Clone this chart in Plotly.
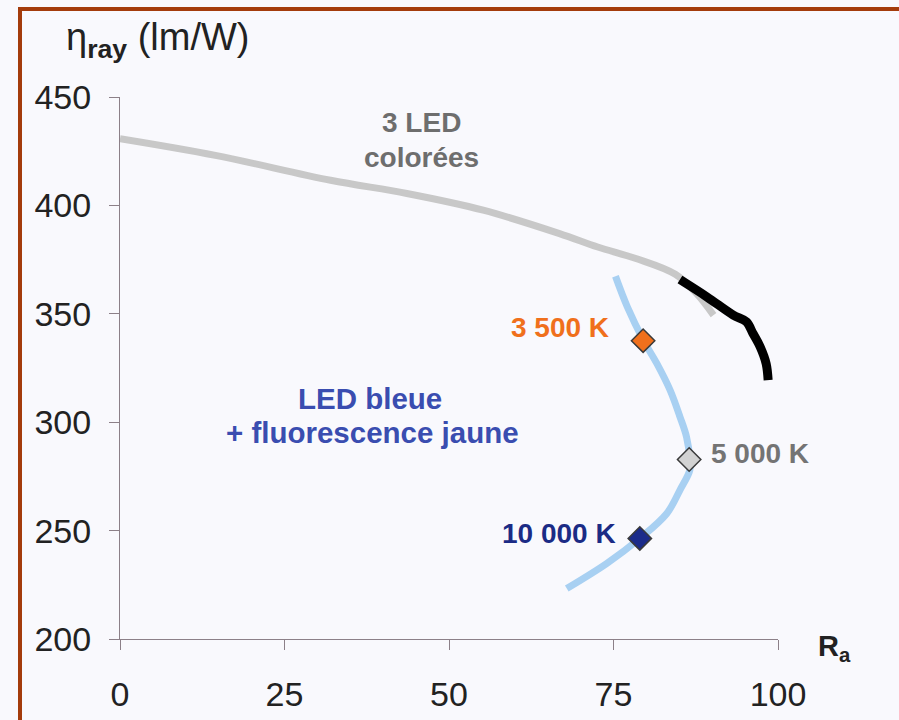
import plotly.graph_objects as go

# ---- data ----
led3_ra = [0, 14.5, 32.0, 43.6, 55.2, 66.8, 72.6, 78.4, 84.4, 87.6, 90.2]
led3_eta = [430.8, 423.1, 411.6, 405.5, 397.8, 387.0, 380.8, 375.5, 368.2, 359.4, 349.4]

led4_ra = [85.1, 89.2, 93.2, 95.2, 96.2, 97.3, 98.2, 98.5]
led4_eta = [365.8, 357.8, 349.4, 346.3, 340.9, 334.7, 327.0, 319.4]

blue_ra = [75.3, 77.1, 79.6, 81.6, 83.6, 85.1, 86.1, 86.6, 86.6, 85.1, 83.1, 79.0, 74.0, 67.9]
blue_eta = [367.3, 353.2, 337.5, 327.0, 314.8, 302.5, 293.2, 283.0, 277.9, 268.7, 257.9, 246.4, 234.9, 223.3]

temp_labels = ["3 500 K", "5 000 K", "10 000 K"]
temp_ra = [79.5, 86.5, 79.0]
temp_eta = [337.6, 282.8, 246.4]
temp_colors = ["#f0701c", "#d2d2d2", "#1b2b8a"]

x_ticks = [0, 25, 50, 75, 100]
y_ticks = [200, 250, 300, 350, 400, 450]

# ---- layout geometry ----
W, H = 899, 720
L, R, T, B = 120, 121, 97, 81
pw, ph = W - L - R, H - T - B


def dx(px):
    return (px - L) / pw * 100.0


def dy(py):
    return 200.0 + (H - B - py) / ph * 250.0


def pxp(px):
    return (px - L) / pw


def pyp(py):
    return (H - B - py) / ph


FONT = "Liberation Sans, Arial, sans-serif"
BG = "#f9f9fd"

fig = go.Figure()

fig.add_trace(go.Scatter(x=led3_ra, y=led3_eta, mode="lines",
                         line=dict(color="#c8c8c8", width=7, shape="spline"),
                         hoverinfo="skip", showlegend=False))
fig.add_trace(go.Scatter(x=blue_ra, y=blue_eta, mode="lines",
                         line=dict(color="#a8d0f2", width=7, shape="spline"),
                         hoverinfo="skip", showlegend=False))
fig.add_trace(go.Scatter(x=led4_ra, y=led4_eta, mode="lines",
                         line=dict(color="#000000", width=9, shape="spline"),
                         hoverinfo="skip", showlegend=False))
fig.add_trace(go.Scatter(x=temp_ra, y=temp_eta, mode="markers",
                         marker=dict(symbol="diamond", size=18, color=temp_colors,
                                     line=dict(color="#3a3a3a", width=1.5)),
                         text=temp_labels, hoverinfo="text", showlegend=False))

ann = []


def add_text(txt, x, y, color, size=28, xanchor="center", bold=True):
    ann.append(dict(text=(f"<b>{txt}</b>" if bold else txt), x=dx(x), y=dy(y),
                    xref="x", yref="y", showarrow=False, xanchor=xanchor,
                    yanchor="middle", font=dict(family=FONT, size=size, color=color)))


add_text("3 LED", 421, 122, "#6e6e6e")
add_text("colorées", 421.5, 157, "#6e6e6e")
add_text("4 LED", 828, 282, "#111111")
add_text("colorées", 828, 315, "#111111")
add_text("LED bleue", 370, 398, "#3a4db0", size=29.5)
add_text("+ fluorescence jaune", 372, 432, "#3a4db0", size=29.5)
add_text(temp_labels[0], 611, 327, "#f0701c", xanchor="right")
add_text(temp_labels[1], 709, 453, "#747474", xanchor="left")
add_text(temp_labels[2], 618, 533, "#1b2b85", xanchor="right")

ann.append(dict(text="η<sub><b>ray</b></sub> (lm/W)", x=pxp(64), y=pyp(40),
                xref="paper", yref="paper", showarrow=False, xanchor="left",
                yanchor="middle", font=dict(family=FONT, size=38, color="#222222")))
ann.append(dict(text="<b>R<sub>a</sub></b>", x=pxp(816), y=pyp(648),
                xref="paper", yref="paper", showarrow=False, xanchor="left",
                yanchor="middle", font=dict(family=FONT, size=29, color="#222222")))

# page border (brown frame on top and left; right/bottom edges fall off the page)
shapes = [
    dict(type="rect", xref="paper", yref="paper",
         x0=pxp(20), x1=pxp(W + 30), y0=pyp(9), y1=pyp(H + 30),
         line=dict(color="#a43c0c", width=4), fillcolor="rgba(0,0,0,0)", layer="above"),
]

fig.update_layout(
    width=W, height=H,
    margin=dict(l=L, r=R, t=T, b=B, autoexpand=False),
    paper_bgcolor=BG, plot_bgcolor=BG,
    annotations=ann, shapes=shapes,
    xaxis=dict(range=[0, 100], tickvals=x_ticks, ticktext=[str(v) for v in x_ticks],
               showgrid=False, zeroline=False, showline=True, linecolor="#8c8088",
               linewidth=1, ticks="outside", ticklen=10, tickcolor="#8c8088",
               tickfont=dict(family=FONT, size=34, color="#222222"),
               ticklabelstandoff=15, automargin=False),
    yaxis=dict(range=[200, 450], tickvals=y_ticks, ticktext=[str(v) for v in y_ticks],
               showgrid=False, zeroline=False, showline=True, linecolor="#8c8088",
               linewidth=1, ticks="outside", ticklen=10, tickcolor="#8c8088",
               tickfont=dict(family=FONT, size=34, color="#222222"),
               ticklabelstandoff=11, automargin=False),
)

fig.write_html("out.html")
